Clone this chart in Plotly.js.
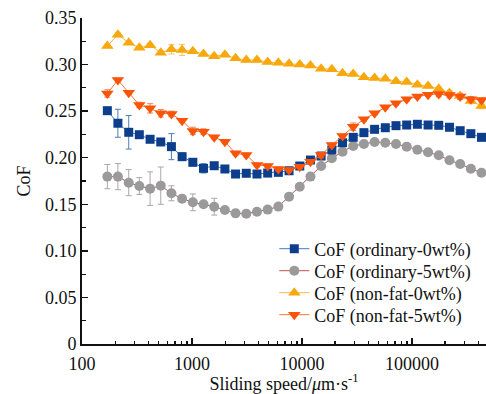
<!DOCTYPE html>
<html>
<head>
<meta charset="utf-8">
<script src="https://cdn.plot.ly/plotly-3.0.1.min.js"></script>
<style>html,body{margin:0;padding:0;background:#fff;}#chart{width:486px;height:394px;}</style>
</head>
<body>
<div id="chart"></div>
<script>
// Sliding speed (µm/s)
const speed = [170, 212, 266, 332, 416, 520, 650, 813, 1018, 1273, 1592, 1991, 2490, 3116, 3898, 4876, 6099, 7630, 9545, 11940, 14930, 18680, 23370, 29230, 36560, 45730, 57210, 71570, 89530, 112000, 140100, 175200, 219200, 274200, 343000, 428700];

const ordinary0 = [0.2505, 0.237, 0.2273, 0.2247, 0.2198, 0.2169, 0.2119, 0.2011, 0.1951, 0.1886, 0.1914, 0.1879, 0.1825, 0.1833, 0.1825, 0.1835, 0.1843, 0.186, 0.1911, 0.1975, 0.2018, 0.2083, 0.2161, 0.2219, 0.2269, 0.2305, 0.2322, 0.2344, 0.2351, 0.2359, 0.2351, 0.2348, 0.2327, 0.229, 0.2258, 0.2219];
const ordinary0Err = [0.003, 0.015, 0.018, 0.003, 0.003, 0.003, 0.014, 0.004, 0.004, 0.005, 0.003, 0.003, 0.002, 0.002, 0.002, 0.002, 0.002, 0.002, 0.002, 0.002, 0.002, 0.002, 0.002, 0.002, 0.002, 0.002, 0.002, 0.002, 0.002, 0.002, 0.002, 0.002, 0.002, 0.002, 0.002, 0.002];

const ordinary5 = [0.1797, 0.1797, 0.1732, 0.1696, 0.1668, 0.17, 0.1618, 0.156, 0.1521, 0.15, 0.1474, 0.1439, 0.1403, 0.1399, 0.142, 0.1443, 0.1475, 0.1582, 0.1689, 0.1797, 0.1911, 0.1994, 0.2065, 0.2126, 0.2147, 0.2169, 0.2161, 0.2147, 0.2119, 0.2086, 0.2058, 0.2026, 0.1972, 0.1933, 0.1882, 0.1839];
const ordinary5Err = [0.013, 0.014, 0.014, 0.009, 0.018, 0.02, 0.008, 0.004, 0.009, 0.003, 0.009, 0.002, 0.004, 0.002, 0.002, 0.002, 0.002, 0.002, 0.002, 0.002, 0.002, 0.002, 0.002, 0.002, 0.002, 0.002, 0.002, 0.002, 0.002, 0.002, 0.002, 0.002, 0.002, 0.002, 0.002, 0.002];

const nonfat0 = [0.320, 0.332, 0.3235, 0.318, 0.3207, 0.3128, 0.3164, 0.3157, 0.3143, 0.3114, 0.309, 0.3106, 0.3067, 0.305, 0.305, 0.3027, 0.302, 0.301, 0.300, 0.299, 0.2956, 0.295, 0.2906, 0.2899, 0.2863, 0.2856, 0.2849, 0.282, 0.2813, 0.2784, 0.277, 0.274, 0.2695, 0.2663, 0.2609, 0.2555];
const nonfat0Err = [0.002, 0.002, 0.002, 0.002, 0.002, 0.002, 0.005, 0.006, 0.002, 0.002, 0.002, 0.002, 0.002, 0.002, 0.002, 0.002, 0.002, 0.002, 0.002, 0.002, 0.002, 0.002, 0.002, 0.002, 0.002, 0.002, 0.002, 0.002, 0.002, 0.002, 0.002, 0.002, 0.003, 0.003, 0.003, 0.003];

const nonfat5 = [0.269, 0.2834, 0.2698, 0.2566, 0.253, 0.2477, 0.247, 0.2398, 0.2287, 0.228, 0.222, 0.2172, 0.2047, 0.2029, 0.1922, 0.1912, 0.188, 0.1868, 0.1904, 0.1957, 0.2029, 0.2137, 0.2233, 0.2333, 0.2412, 0.2477, 0.2541, 0.2584, 0.2627, 0.2656, 0.2677, 0.2684, 0.2673, 0.2656, 0.2627, 0.262];
const nonfat5Err = [0.004, 0.002, 0.002, 0.003, 0.005, 0.004, 0.003, 0.002, 0.004, 0.003, 0.002, 0.002, 0.002, 0.002, 0.002, 0.002, 0.002, 0.002, 0.002, 0.002, 0.003, 0.002, 0.002, 0.004, 0.002, 0.002, 0.002, 0.002, 0.002, 0.002, 0.002, 0.003, 0.003, 0.003, 0.003, 0.002];

const names = ['CoF (ordinary-0wt%)', 'CoF (ordinary-5wt%)', 'CoF (non-fat-0wt%)', 'CoF (non-fat-5wt%)'];
const xTickVals = [100, 1000, 10000, 100000];
const xTickText = ['100', '1000', '10000', '100000'];
const yTickVals = [0, 0.05, 0.10, 0.15, 0.20, 0.25, 0.30, 0.35];
const yTickText = ['0', '0.05', '0.10', '0.15', '0.20', '0.25', '0.30', '0.35'];

function mk(name, legendId, y, err, symbol, mColor, lColor, eColor, size) {
  return {
    x: speed, y: y, name: name, type: 'scatter', mode: 'lines+markers', legend: legendId,
    line: {color: lColor, width: 1},
    marker: {symbol: symbol, color: mColor, size: size},
    error_y: {type: 'data', array: err, visible: true, color: eColor, thickness: 1, width: 3}
  };
}

const data = [
  mk(names[2], 'legend3', nonfat0, nonfat0Err, 'triangle-up', '#f7a80d', '#f9b84a', '#f9c060', 11),
  mk(names[1], 'legend2', ordinary5, ordinary5Err, 'circle', '#9a9a9a', '#c8504a', '#a8a8a8', 10),
  mk(names[0], 'legend', ordinary0, ordinary0Err, 'square', '#0c3e8c', '#3f7cc6', '#4a7fb5', 9),
  mk(names[3], 'legend4', nonfat5, nonfat5Err, 'triangle-down', '#fa5408', '#f47434', '#f08050', 11)
];

const font = {family: '"Liberation Serif", "Times New Roman", serif', size: 18, color: '#111'};

function leg(ypix) {
  return {x: 0.476, y: (344 - ypix) / 326, xanchor: 'left', yanchor: 'middle',
          bgcolor: 'rgba(0,0,0,0)', font: font, itemwidth: 30, borderwidth: 0};
}

const layout = {
  width: 486, height: 394,
  margin: {l: 82, r: 0, t: 18, b: 50},
  paper_bgcolor: '#fff', plot_bgcolor: '#fff',
  font: font,
  showlegend: true,
  legend: leg(249),
  legend2: leg(271),
  legend3: leg(293),
  legend4: leg(315),
  xaxis: {
    type: 'log', range: [2, 5.673], showgrid: false, zeroline: false,
    showline: true, linecolor: '#111', linewidth: 2,
    ticks: 'inside', ticklen: 6, tickwidth: 1.5, tickcolor: '#111',
    tickvals: xTickVals, ticktext: xTickText, tickfont: font, ticklabelstandoff: 2,
    minor: {ticks: 'inside', ticklen: 3.5, tickwidth: 1.2, tickcolor: '#111', dtick: 'D1', showgrid: false},
    title: {text: 'Sliding speed/<i>μ</i>m·s<sup>-1</sup>', font: font, standoff: 5}
  },
  yaxis: {
    range: [0, 0.35], showgrid: false, zeroline: false,
    showline: true, linecolor: '#111', linewidth: 2,
    ticks: 'inside', ticklen: 6, tickwidth: 1.5, tickcolor: '#111',
    tickvals: yTickVals, ticktext: yTickText, tickfont: font,
    minor: {ticks: 'inside', ticklen: 3.5, tickwidth: 1.2, tickcolor: '#111', dtick: 0.025, showgrid: false},
    title: {text: 'CoF', font: font, standoff: 10}
  }
};

Plotly.newPlot('chart', data, layout, {displayModeBar: false, staticPlot: true});
</script>
</body>
</html>
